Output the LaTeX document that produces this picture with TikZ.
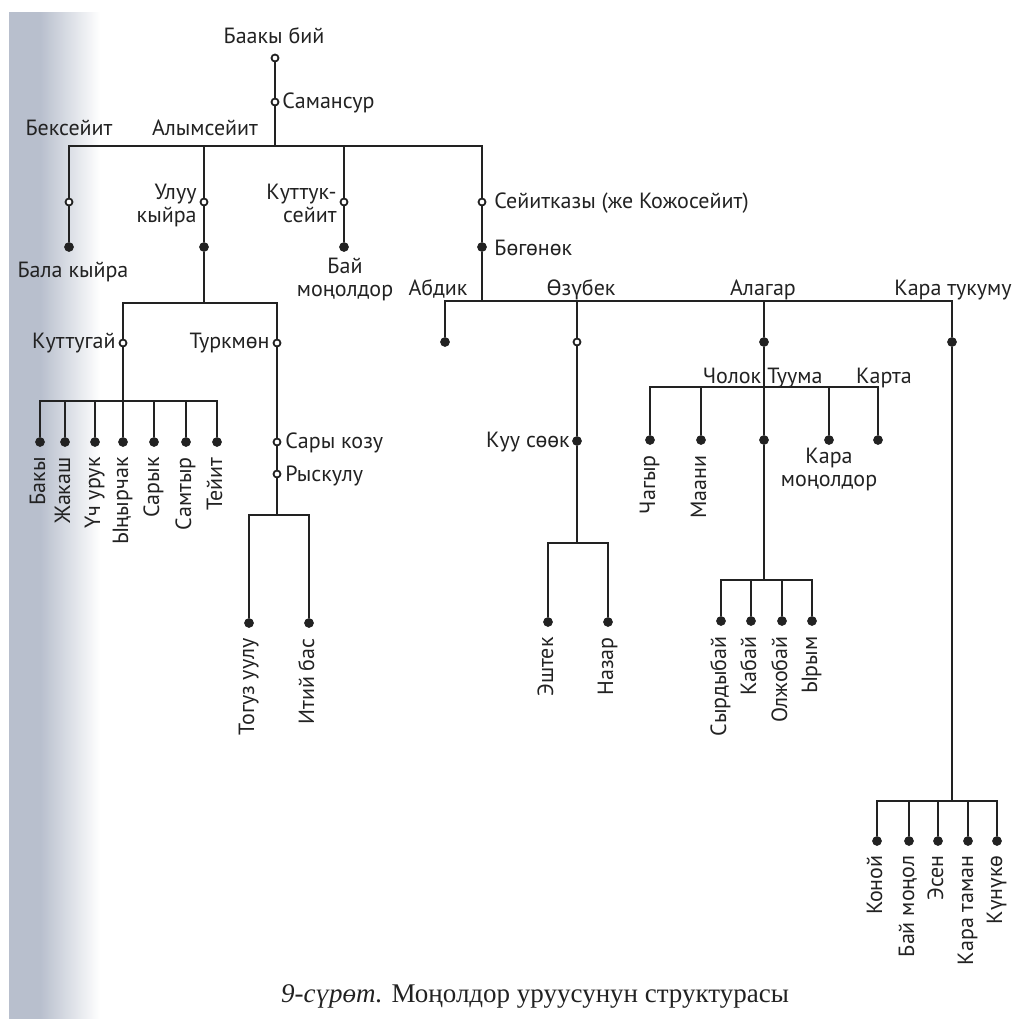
\documentclass[tikz,border=0pt]{standalone}
\usepackage{fontspec}
\setmainfont{PT Sans}
\newfontfamily\capfont{Liberation Serif}
\definecolor{ink}{RGB}{34,34,34}
\definecolor{scangray}{RGB}{184,191,205}
\tikzset{
  bar/.style={ink,line width=1.1pt},
  hbar/.style={bar,line cap=rect},
  blackdot/.style={circle,fill=ink,draw=ink,line width=0.3pt,inner sep=0pt,minimum size=4.5pt},
  whitedot/.style={circle,fill=white,draw=ink,line width=0.9pt,inner sep=0pt,minimum size=3.5pt},
  lbl/.style={text=ink,font=\fontsize{11}{11.5}\selectfont,inner sep=0pt},
  vlbl/.style={lbl,rotate=90,anchor=east,text height=7.7pt,text depth=2.6pt},
}
\begin{document}
\begin{tikzpicture}[x=0.5pt,y=-0.5pt]
\useasboundingbox (0,0) rectangle (1012,1019);
\fill[scangray] (9,12) rectangle (40,1019);
\shade[left color=scangray,right color=white] (40,12) rectangle (100,1019);

\node[lbl,anchor=base] (baakyL) at (274,43) {Баакы бий};
\node[whitedot] (baaky) at (275,58) {};
\node[whitedot] (saman) at (275,102) {};
\node[lbl,anchor=base west] (samanL) at (282,108) {Самансур};
\coordinate (top) at (275,146);
\coordinate (bexT) at (69,146);
\coordinate (alymT) at (204,146);
\coordinate (kutT) at (344,146);
\coordinate (seiT) at (482,146);
\draw[bar] (baaky) -- (saman) -- (top);
\draw[hbar] (bexT) -- (seiT);
\node[lbl,anchor=base] (bexL) at (69,135) {Бексейит};
\node[lbl,anchor=base] (alymL) at (205,135) {Алымсейит};

\node[whitedot] (bex) at (69,202) {};
\node[blackdot] (bala) at (69,247) {};
\node[lbl,anchor=base] (balaL) at (73,277) {Бала кыйра};
\draw[bar] (bexT) -- (bex) -- (bala);

\node[whitedot] (uluu) at (204,202) {};
\node[lbl,anchor=east,align=right] (uluuL) at (197,205) {Улуу\\кыйра};
\node[blackdot] (alym) at (204,247) {};
\coordinate (alymB) at (204,303);
\draw[bar] (alymT) -- (uluu) -- (alym) -- (alymB);
\coordinate (kutgT) at (123,303);
\coordinate (turkT) at (277,303);
\draw[hbar] (kutgT) -- (turkT);
\node[whitedot] (kutg) at (123,343) {};
\node[lbl,anchor=base east] (kutgL) at (116,348) {Куттугай};
\node[whitedot] (turk) at (277,343) {};
\node[lbl,anchor=base east] (turkL) at (270,348) {Туркмөн};
\coordinate (kutgB) at (123,401);
\draw[bar] (kutgT) -- (kutg) -- (kutgB);
\foreach \x/\name [count=\i] in {40/Бакы,65/Жакаш,95/Үч урук,123/Ыңырчак,154/Сарык,186/Самтыр,217/Тейит}{
  \coordinate (kgT\i) at (\x,401);
  \node[blackdot] (kg\i) at (\x,442) {};
  \node[vlbl] (kgL\i) at (\x,457) {\name};
  \draw[bar] (kgT\i) -- (kg\i);
}
\draw[hbar] (kgT1) -- (kgT7);

\node[whitedot] (sary) at (277,442) {};
\node[lbl,anchor=base west] (saryL) at (285,448) {Сары козу};
\node[whitedot] (rysk) at (277,474) {};
\node[lbl,anchor=base west] (ryskL) at (285,481) {Рыскулу};
\coordinate (turkB) at (277,515);
\draw[bar] (turkT) -- (turk) -- (sary) -- (rysk) -- (turkB);
\foreach \x/\name [count=\i] in {249/Тогуз уулу,309/Итий бас}{
  \coordinate (tkT\i) at (\x,515);
  \node[blackdot] (tk\i) at (\x,623) {};
  \node[vlbl] (tkL\i) at (\x,638) {\name};
  \draw[bar] (tkT\i) -- (tk\i);
}
\draw[hbar] (tkT1) -- (tkT2);

\node[whitedot] (kut) at (344,202) {};
\node[lbl,anchor=east,align=right] (kutL) at (337,203) {Куттук-\\сейит};
\node[blackdot] (bai) at (344,247) {};
\node[lbl,anchor=north,align=center] (baiL) at (345,258) {Бай\\моңолдор};
\draw[bar] (kutT) -- (kut) -- (bai);

\node[whitedot] (sei) at (482,202) {};
\node[lbl,anchor=base west] (seiL) at (494,208) {Сейитказы (же Кожосейит)};
\node[blackdot] (bog) at (482,247) {};
\node[lbl,anchor=base west] (bogL) at (494,255) {Бөгөнөк};
\coordinate (bogB) at (482,301);
\draw[bar] (seiT) -- (sei) -- (bog) -- (bogB);

\coordinate (abdT) at (445,301);
\coordinate (ozT) at (577,301);
\coordinate (alaT) at (764,301);
\coordinate (karT) at (952,301);
\draw[hbar] (abdT) -- (karT);
\node[lbl,anchor=base] (abdL) at (438,295) {Абдик};
\node[lbl,anchor=base] (ozL) at (581,295) {Өзүбек};
\node[lbl,anchor=base] (alaL) at (763,295) {Алагар};
\node[lbl,anchor=base] (karL) at (953,295) {Кара тукуму};
\node[blackdot] (abd) at (445,342) {};
\draw[bar] (abdT) -- (abd);

\node[whitedot] (oz) at (577,342) {};
\node[blackdot] (kuu) at (577,441) {};
\node[lbl,anchor=base east] (kuuL) at (570,447) {Куу сөөк};
\coordinate (ozB) at (577,543);
\draw[bar] (ozT) -- (oz) -- (kuu) -- (ozB);
\foreach \x/\name [count=\i] in {548/Эштек,608/Назар}{
  \coordinate (kuT\i) at (\x,543);
  \node[blackdot] (ku\i) at (\x,622) {};
  \node[vlbl] (kuL\i) at (\x,637) {\name};
  \draw[bar] (kuT\i) -- (ku\i);
}
\draw[hbar] (kuT1) -- (kuT2);

\node[blackdot] (ala) at (764,342) {};
\node[blackdot] (alaC) at (764,440) {};
\coordinate (alaB) at (764,580);
\draw[bar] (alaT) -- (ala) -- (alaC) -- (alaB);
\coordinate (chT) at (650,387);
\coordinate (maT) at (701,387);
\coordinate (kmT) at (829,387);
\coordinate (kaT) at (878,387);
\draw[hbar] (chT) -- (kaT);
\node[blackdot] (cha) at (650,440) {};
\node[blackdot] (maa) at (701,440) {};
\node[blackdot] (km) at (829,440) {};
\node[blackdot] (kart) at (878,440) {};
\draw[bar] (chT) -- (cha);
\draw[bar] (maT) -- (maa);
\draw[bar] (kmT) -- (km);
\draw[bar] (kaT) -- (kart);
\node[vlbl] (chaL) at (650,455) {Чагыр};
\node[vlbl] (maaL) at (701,455) {Маани};
\node[lbl,anchor=north,align=center] (kmL) at (829,448) {Кара\\моңолдор};
\node[lbl,anchor=base] (cholL) at (732,383) {Чолок};
\node[lbl,anchor=base] (tuuL) at (795,383) {Туума};
\node[lbl,anchor=base] (kartL) at (884,383) {Карта};
\foreach \x/\name [count=\i] in {721/Сырдыбай,751/Кабай,782/Олжобай,812/Ырым}{
  \coordinate (alT\i) at (\x,580);
  \node[blackdot] (al\i) at (\x,621) {};
  \node[vlbl] (alL\i) at (\x,636) {\name};
  \draw[bar] (alT\i) -- (al\i);
}
\draw[hbar] (alT1) -- (alT4);

\node[blackdot] (kar) at (952,342) {};
\coordinate (karB) at (952,801);
\draw[bar] (karT) -- (kar) -- (karB);
\foreach \x/\name [count=\i] in {877/Коной,909/Бай моңол,938/Эсен,968/Кара таман,997/Күнүкө}{
  \coordinate (ktT\i) at (\x,801);
  \node[blackdot] (kt\i) at (\x,841) {};
  \node[vlbl] (ktL\i) at (\x,855) {\name};
  \draw[bar] (ktT\i) -- (kt\i);
}
\draw[hbar] (ktT1) -- (ktT5);

\node[anchor=base,text=ink,font=\capfont\fontsize{13.5}{15}\selectfont] (caption) at (535,1002) {\textit{9-сүрөт.} Моңолдор уруусунун структурасы};
\end{tikzpicture}
\end{document}
